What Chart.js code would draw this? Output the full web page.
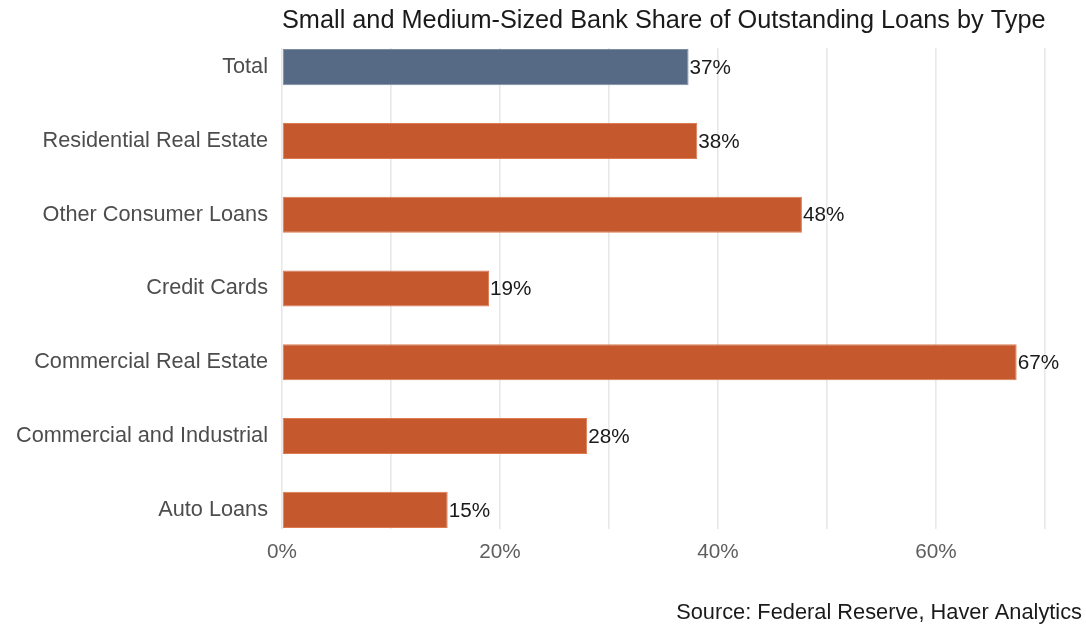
<!DOCTYPE html>
<html>
<head>
<meta charset="utf-8">
<script src="https://cdn.jsdelivr.net/npm/chart.js@4/dist/chart.umd.min.js"></script>
<style>
  html, body { margin: 0; padding: 0; background: #fff; }
  #wrap { width: 1086px; height: 627px; position: relative; }
</style>
</head>
<body>
<div id="wrap"><canvas id="chart"></canvas></div>
<script>
const categories = [
  "Total",
  "Residential Real Estate",
  "Other Consumer Loans",
  "Credit Cards",
  "Commercial Real Estate",
  "Commercial and Industrial",
  "Auto Loans"
];
const shares = [37.3, 38.1, 47.7, 19.0, 67.4, 28.0, 15.2];
const xTicks = [0, 20, 40, 60];

const chartTitle = "Small and Medium-Sized Bank Share of Outstanding Loans by Type";
const sourceNote = "Source: Federal Reserve, Haver Analytics";

const FONT = "'Liberation Sans', Arial, sans-serif";

// value labels at bar ends + title / source text
const textPlugin = {
  id: "textPlugin",
  afterDatasetsDraw(chart) {
    const ctx = chart.ctx;
    const meta = chart.getDatasetMeta(0);
    ctx.save();
    ctx.font = "20.7px " + FONT;
    ctx.fillStyle = "#1a1a1a";
    ctx.textAlign = "left";
    ctx.textBaseline = "middle";
    meta.data.forEach((bar, i) => {
      ctx.fillText(Math.round(shares[i]) + "%", bar.x + 1, bar.y + 1);
    });
    ctx.restore();
  },
  afterDraw(chart) {
    const ctx = chart.ctx;
    const area = chart.chartArea;
    ctx.save();
    ctx.fillStyle = "#1a1a1a";
    ctx.textBaseline = "middle";
    ctx.font = "25.3px " + FONT;
    ctx.textAlign = "left";
    ctx.fillText(chartTitle, area.left, 21);
    ctx.font = "21.8px " + FONT;
    ctx.textAlign = "right";
    ctx.fillText(sourceNote, 1082, 613);
    ctx.restore();
  }
};

new Chart(document.getElementById("chart"), {
  type: "bar",
  data: {
    datasets: [{
      data: shares.map((v, i) => ({ x: v, y: i })),
      backgroundColor: categories.map(c => c === "Total" ? "#566a86" : "#c5582c"),
      borderColor: categories.map(c => c === "Total" ? "#7d8ca3" : "#dc7a52"),
      borderWidth: 1,
      borderSkipped: false,
      barPercentage: 0.49,
      categoryPercentage: 1
    }]
  },
  options: {
    indexAxis: "y",
    responsive: true,
    maintainAspectRatio: false,
    animation: false,
    layout: { padding: { top: 48, right: 41, left: 0, bottom: 0 } },
    plugins: {
      legend: { display: false },
      tooltip: { enabled: false }
    },
    scales: {
      x: {
        type: "linear",
        min: 0,
        max: 70,
        afterFit: (s) => { s.height = 98; },
        border: { display: false },
        grid: { color: "#e8e8e8", lineWidth: 1.6, drawTicks: false },
        ticks: {
          stepSize: 10,
          autoSkip: false,
          maxRotation: 0,
          padding: 11,
          color: "#5e5e5e",
          font: { family: FONT, size: 20.7 },
          callback: (v) => xTicks.includes(v) ? v + "%" : ""
        }
      },
      y: {
        type: "linear",
        reverse: true,
        offset: false,
        min: -0.26,
        max: categories.length - 1 + 0.26,
        afterFit: (s) => { s.width = 282; },
        border: { display: false },
        grid: { display: false, drawTicks: false, offset: false },
        ticks: {
          stepSize: 1,
          includeBounds: false,
          autoSkip: false,
          padding: 14,
          color: "#4d4d4d",
          font: { family: FONT, size: 21.7 },
          callback: (v) => categories[v] !== undefined ? categories[v] : ""
        }
      }
    }
  },
  plugins: [textPlugin]
});
</script>
</body>
</html>
